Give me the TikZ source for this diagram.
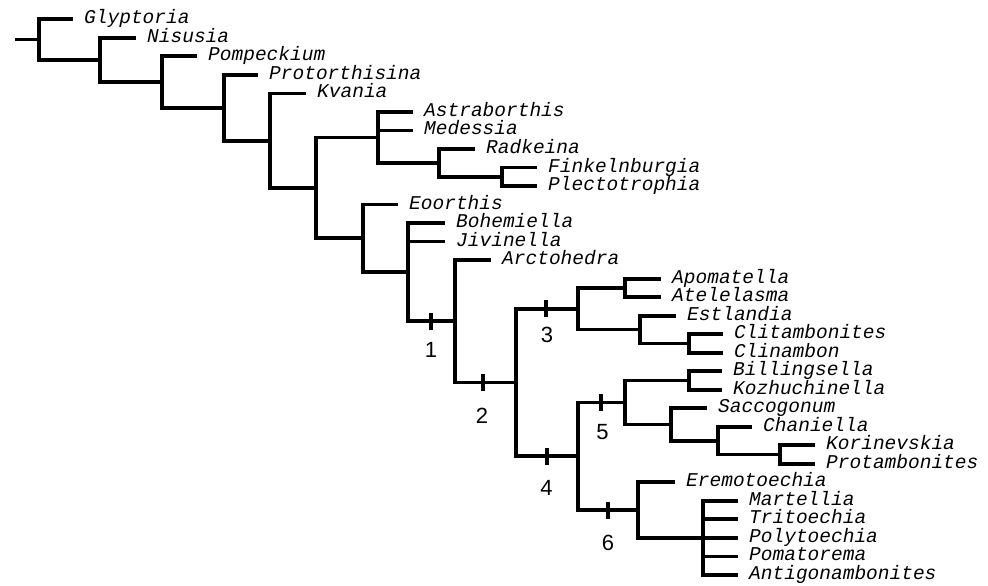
\documentclass[tikz,border=0pt]{standalone}
\usepackage{fontspec}
\newfontfamily\taxfont{Liberation Mono}
\newfontfamily\numfont{Liberation Sans}
\begin{document}
\begin{tikzpicture}[x=1pt,y=-1pt,
  branch/.style={line width=3.8pt,line cap=butt,line join=miter},
  tickmark/.style={line width=4pt},
  taxon/.style={anchor=base west,inner sep=0pt,font=\taxfont\itshape\fontsize{19.5}{20}\selectfont},
  numlab/.style={anchor=center,inner sep=0pt,font=\numfont\fontsize{22}{24}\selectfont}]
\useasboundingbox (0,0) rectangle (988,586);
% internal nodes
\coordinate (R) at (39,39.6);
\coordinate (N1) at (100,59.9);
\coordinate (N2) at (162,82.0);
\coordinate (N3) at (224,107.75);
\coordinate (N4) at (270,140.6);
\coordinate (N5) at (316,187.85);
\coordinate (N6) at (378,137.4);
\coordinate (N7) at (439,162.8);
\coordinate (N8) at (502,176.75);
\coordinate (N9) at (363,238.3);
\coordinate (N10) at (408,272.15);
\coordinate (N11) at (455,321.3);
\coordinate (N12) at (516,382.5);
\coordinate (N13) at (578,308.7);
\coordinate (N14) at (625,287.85);
\coordinate (N15) at (640,329.5);
\coordinate (N15c) at (689,343.4);
\coordinate (N16) at (578,456.25);
\coordinate (N17) at (625,402.4);
\coordinate (N18) at (689,380.45);
\coordinate (N19) at (671,424.4);
\coordinate (N19b) at (718,440.6);
\coordinate (N19c) at (780,454.55);
\coordinate (N20) at (638,510.1);
\coordinate (N21) at (703,537.9);
\coordinate (root) at (15,39.6);
% leaf ends
\coordinate (L0) at (73,19.3);
\coordinate (L1) at (136,37.8);
\coordinate (L2) at (197,56.3);
\coordinate (L3) at (258,74.9);
\coordinate (L4) at (306,93.4);
\coordinate (L5) at (413,111.9);
\coordinate (L6) at (413,130.4);
\coordinate (L7) at (475,148.9);
\coordinate (L8) at (537,167.5);
\coordinate (L9) at (537,186.0);
\coordinate (L10) at (398,204.5);
\coordinate (L11) at (445,223.0);
\coordinate (L12) at (445,241.5);
\coordinate (L13) at (491,260.1);
\coordinate (L14) at (661,278.6);
\coordinate (L15) at (661,297.1);
\coordinate (L16) at (676,315.6);
\coordinate (L17) at (723,334.1);
\coordinate (L18) at (723,352.7);
\coordinate (L19) at (722,371.2);
\coordinate (L20) at (722,389.7);
\coordinate (L21) at (707,408.2);
\coordinate (L22) at (752,426.7);
\coordinate (L23) at (815,445.3);
\coordinate (L24) at (815,463.8);
\coordinate (L25) at (675,482.3);
\coordinate (L26) at (738,500.8);
\coordinate (L27) at (738,519.3);
\coordinate (L28) at (738,537.9);
\coordinate (L29) at (738,556.4);
\coordinate (L30) at (738,574.9);
% branches
\draw[branch] (root) -- (R);
\draw[branch] (R) |- (L0);   \draw[branch] (R) |- (N1);
\draw[branch] (N1) |- (L1);  \draw[branch] (N1) |- (N2);
\draw[branch] (N2) |- (L2);  \draw[branch] (N2) |- (N3);
\draw[branch] (N3) |- (L3);  \draw[branch] (N3) |- (N4);
\draw[branch] (N4) |- (L4);  \draw[branch] (N4) |- (N5);
\draw[branch] (N5) |- (N6);  \draw[branch] (N5) |- (N9);
\draw[branch] (N6) |- (L5);  \draw[branch] (N6) |- (L6);  \draw[branch] (N6) |- (N7);
\draw[branch] (N7) |- (L7);  \draw[branch] (N7) |- (N8);
\draw[branch] (N8) |- (L8);  \draw[branch] (N8) |- (L9);
\draw[branch] (N9) |- (L10); \draw[branch] (N9) |- (N10);
\draw[branch] (N10) |- (L11); \draw[branch] (N10) |- (L12); \draw[branch] (N10) |- (N11);
\draw[branch] (N11) |- (L13); \draw[branch] (N11) |- (N12);
\draw[branch] (N12) |- (N13); \draw[branch] (N12) |- (N16);
\draw[branch] (N13) |- (N14); \draw[branch] (N13) |- (N15);
\draw[branch] (N14) |- (L14); \draw[branch] (N14) |- (L15);
\draw[branch] (N15) |- (L16); \draw[branch] (N15) |- (N15c);
\draw[branch] (N15c) |- (L17); \draw[branch] (N15c) |- (L18);
\draw[branch] (N16) |- (N17); \draw[branch] (N16) |- (N20);
\draw[branch] (N17) |- (N18); \draw[branch] (N17) |- (N19);
\draw[branch] (N18) |- (L19); \draw[branch] (N18) |- (L20);
\draw[branch] (N19) |- (L21); \draw[branch] (N19) |- (N19b);
\draw[branch] (N19b) |- (L22); \draw[branch] (N19b) |- (N19c);
\draw[branch] (N19c) |- (L23); \draw[branch] (N19c) |- (L24);
\draw[branch] (N20) |- (L25); \draw[branch] (N20) |- (N21);
\draw[branch] (N21) |- (L26); \draw[branch] (N21) |- (L27); \draw[branch] (N21) |- (L28);
\draw[branch] (N21) |- (L29); \draw[branch] (N21) |- (L30);
% taxon names
\foreach \l/\t in {L0/Glyptoria,L1/Nisusia,L2/Pompeckium,L3/Protorthisina,L4/Kvania,
  L5/Astraborthis,L6/Medessia,L7/Radkeina,L8/Finkelnburgia,L9/Plectotrophia,
  L10/Eoorthis,L11/Bohemiella,L12/Jivinella,L13/Arctohedra,L14/Apomatella,
  L15/Atelelasma,L16/Estlandia,L17/Clitambonites,L18/Clinambon,L19/Billingsella,
  L20/Kozhuchinella,L21/Saccogonum,L22/Chaniella,L23/Korinevskia,L24/Protambonites,
  L25/Eremotoechia,L26/Martellia,L27/Tritoechia,L28/Polytoechia,L29/Pomatorema,
  L30/Antigonambonites}
  \node[taxon] (t\l) at ([xshift=11pt,yshift=-4.5pt]\l) {\t};
% ticks and labels
\coordinate (k1) at (431,321.3);
\coordinate (k2) at (483,382.5);
\coordinate (k3) at (546,308.7);
\coordinate (k4) at (547,456.25);
\coordinate (k5) at (601,402.4);
\coordinate (k6) at (608,510.1);
\foreach \k in {k1,k2,k3,k4,k5,k6}
  \draw[tickmark] ([yshift=8.5pt]\k) -- ([yshift=-8.5pt]\k);
\node[numlab] (n1) at (431,349.5) {1};
\node[numlab] (n2) at (482,415.5) {2};
\node[numlab] (n3) at (547,335) {3};
\node[numlab] (n4) at (546.5,488) {4};
\node[numlab] (n5) at (602.5,432) {5};
\node[numlab] (n6) at (608,543) {6};
\end{tikzpicture}
\end{document}
